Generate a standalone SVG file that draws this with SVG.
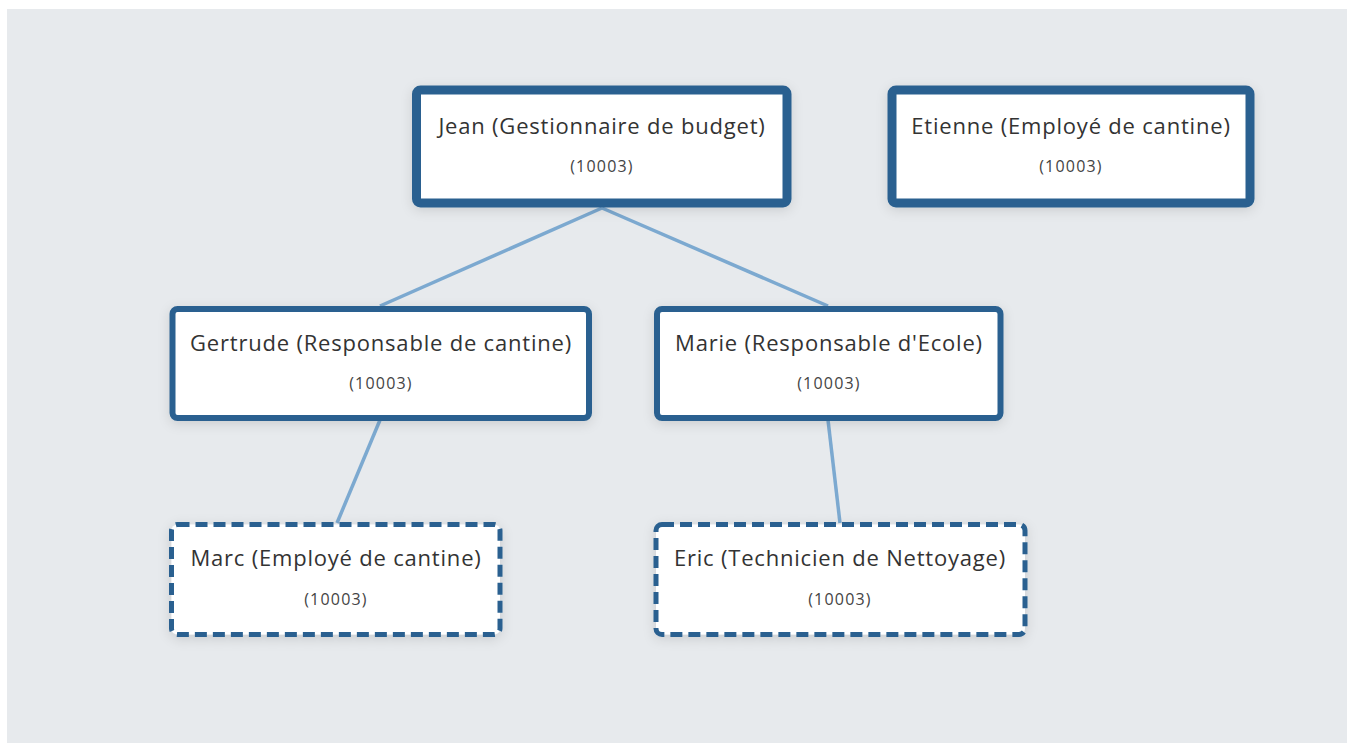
<svg xmlns="http://www.w3.org/2000/svg" width="1347" height="743" viewBox="0 0 1347 743">
<defs>
<filter id="sh" x="-20%" y="-30%" width="140%" height="160%">
<feDropShadow dx="0" dy="3" stdDeviation="6" flood-color="#000" flood-opacity="0.12"/>
</filter>
<style>
.box{fill:#ffffff;stroke:#2a6190;stroke-linejoin:round}
.b1{stroke-width:9}
.b2{stroke-width:6}
.b3{stroke-width:5;stroke-dasharray:12 6}
.t{font-family:"Open Sans","Noto Sans","DejaVu Sans",sans-serif;font-size:22px;letter-spacing:0.8px;fill:#333;text-anchor:middle}
.s{font-family:"Open Sans","Noto Sans","DejaVu Sans",sans-serif;font-size:16px;letter-spacing:1.2px;fill:#444;text-anchor:middle}
.c{stroke:#7ca9d0;stroke-width:3.5;fill:none}
</style>
</defs>
<rect x="0" y="0" width="1347" height="743" fill="#ffffff"/>
<rect x="7" y="9" width="1340" height="734" fill="#e7eaed"/>
<g id="connectors">
<line class="c" x1="602" y1="208" x2="380" y2="306"/>
<line class="c" x1="602" y1="208" x2="828" y2="306"/>
<line class="c" x1="380" y1="420" x2="337" y2="523"/>
<line class="c" x1="828" y1="420" x2="840" y2="523"/>
</g>
<g id="jean">
<rect class="box b1" x="416.5" y="90" width="370.5" height="113" rx="4" filter="url(#sh)"/>
<text class="t" x="602" y="134">Jean (Gestionnaire de budget)</text>
<text class="s" x="602" y="172">(10003)</text>
</g>
<g id="etienne">
<rect class="box b1" x="892" y="90" width="358" height="113" rx="4" filter="url(#sh)"/>
<text class="t" x="1071" y="134">Etienne (Employé de cantine)</text>
<text class="s" x="1071" y="172">(10003)</text>
</g>
<g id="gertrude">
<rect class="box b2" x="172.5" y="309" width="416.5" height="109" rx="5" filter="url(#sh)"/>
<text class="t" x="381" y="351">Gertrude (Responsable de cantine)</text>
<text class="s" x="381" y="389">(10003)</text>
</g>
<g id="marie">
<rect class="box b2" x="657" y="309" width="343.5" height="109" rx="5" filter="url(#sh)"/>
<text class="t" x="829" y="351">Marie (Responsable d'Ecole)</text>
<text class="s" x="829" y="389">(10003)</text>
</g>
<g id="marc">
<rect class="box b3" x="171.5" y="524.5" width="328.5" height="110" rx="6" filter="url(#sh)"/>
<text class="t" x="336" y="566">Marc (Employé de cantine)</text>
<text class="s" x="336" y="605">(10003)</text>
</g>
<g id="eric">
<rect class="box b3" x="656" y="524.5" width="369" height="110" rx="6" filter="url(#sh)"/>
<text class="t" x="840" y="566">Eric (Technicien de Nettoyage)</text>
<text class="s" x="840" y="605">(10003)</text>
</g>
</svg>
